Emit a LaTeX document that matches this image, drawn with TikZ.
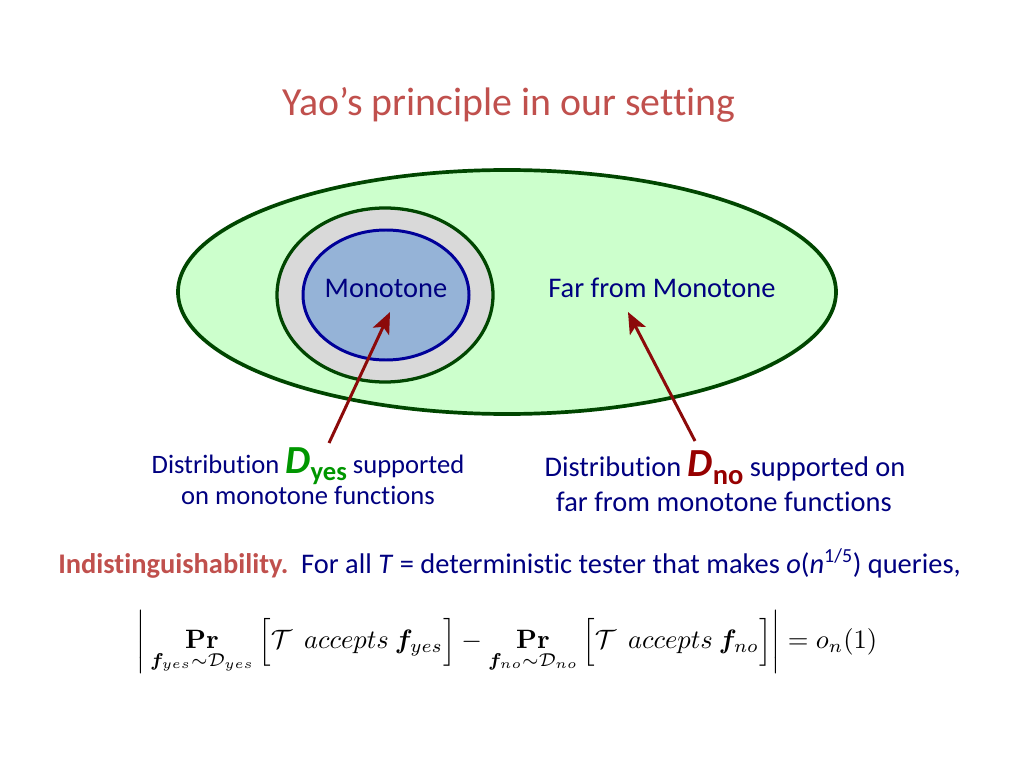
\documentclass[tikz,border=0pt]{standalone}
\usepackage{amsmath,bm}
\usepackage[no-math]{fontspec}
\setmainfont{Carlito}[Ligatures=NoCommon]
\usetikzlibrary{arrows.meta}
\def\outerellipse{(507,292) ellipse (329 and 122)}
\def\graycircle{(385,295) ellipse (108 and 87)}
\def\monoellipse{(386,295) ellipse (83 and 65)}
\definecolor{title red}{RGB}{192,80,77}
\definecolor{text blue}{RGB}{0,0,128}
\definecolor{edge green}{RGB}{0,70,0}
\definecolor{far area}{RGB}{204,255,204}
\definecolor{gray area}{RGB}{217,217,217}
\definecolor{mono area}{RGB}{149,179,215}
\definecolor{mono edge}{RGB}{0,0,153}
\definecolor{yes green}{RGB}{0,150,0}
\definecolor{no red}{RGB}{150,0,0}
\definecolor{arrow red}{RGB}{140,10,10}
\tikzset{farfilled/.style={fill=far area, draw=edge green, line width=2.6pt},
    grayfilled/.style={fill=gray area, draw=edge green, line width=2.3pt},
    monofilled/.style={fill=mono area, draw=mono edge, line width=2.1pt},
    bluetext/.style={text=text blue, inner sep=0pt},
    pointer/.style={draw=arrow red, line width=2.1pt, -{Stealth[length=15pt,width=12.5pt,inset=3.5pt]}}}
\newcommand{\Dbig}[2]{{\fontsize{28}{30}\selectfont\bfseries\itshape\color{#1}D}\raisebox{-0.3em}{\bfseries\color{#1}#2}}

\begin{document}
\begin{tikzpicture}[x=0.703125pt,y=-0.703125pt]
 \useasboundingbox (0,0) rectangle (1024,768);

 \node[text=title red, inner sep=0pt, anchor=base, font=\fontsize{28}{32}\selectfont] (title) at (509,116) {Yao’s principle in our setting};

 \draw[farfilled] \outerellipse;
 \draw[grayfilled] \graycircle;
 \draw[monofilled] \monoellipse;

 \node[bluetext, anchor=base, font=\fontsize{20}{24}\selectfont] (mono) at (386,297) {Monotone};
 \node[bluetext, anchor=base, font=\fontsize{20}{24}\selectfont] (far) at (662,297) {Far from Monotone};

 % distributions
 \node[bluetext, anchor=base, font=\fontsize{18.7}{22}\selectfont] (yes1) at (308,473) {Distribution \Dbig{yes green}{yes} supported};
 \node[bluetext, anchor=base, font=\fontsize{18.7}{22}\selectfont] (yes2) at (308,504) {on monotone functions};
 \node[bluetext, anchor=base, font=\fontsize{20}{24}\selectfont] (no1) at (725,476) {Distribution \Dbig{no red}{no} supported on};
 \node[bluetext, anchor=base, font=\fontsize{20}{24}\selectfont] (no2) at (724,511) {far from monotone functions};

 \coordinate (yestail) at (329,443);
 \coordinate (yeshead) at (390,312);
 \coordinate (notail) at (695,441);
 \coordinate (nohead) at (628,312);
 \draw[pointer] (yestail) -- (yeshead);
 \draw[pointer] (notail) -- (nohead);

 \node[inner sep=0pt, anchor=base west, font=\fontsize{20}{24}\selectfont] (indist) at (58,573)
  {\textcolor{title red}{\bfseries Indistinguishability.}\ \ \textcolor{text blue}{For all \textit{T} = deterministic tester that makes \textit{o}(\textit{n}\textsuperscript{1/5}) queries,}};

 \node[inner sep=0pt] (formula) at (507,642)
  {\scalebox{1.87}{$\displaystyle \left|\,\mathop{\mathbf{Pr}}\limits_{\bm{f}_{yes}\sim\mathcal{D}_{yes}}\Big[\mathcal{T}\ \ accepts\ \bm{f}_{yes}\Big] - \mathop{\mathbf{Pr}}\limits_{\bm{f}_{no}\sim\mathcal{D}_{no}}\Big[\mathcal{T}\ \ accepts\ \bm{f}_{no}\Big]\right| = o_n(1)$}};

\end{tikzpicture}
\end{document}
